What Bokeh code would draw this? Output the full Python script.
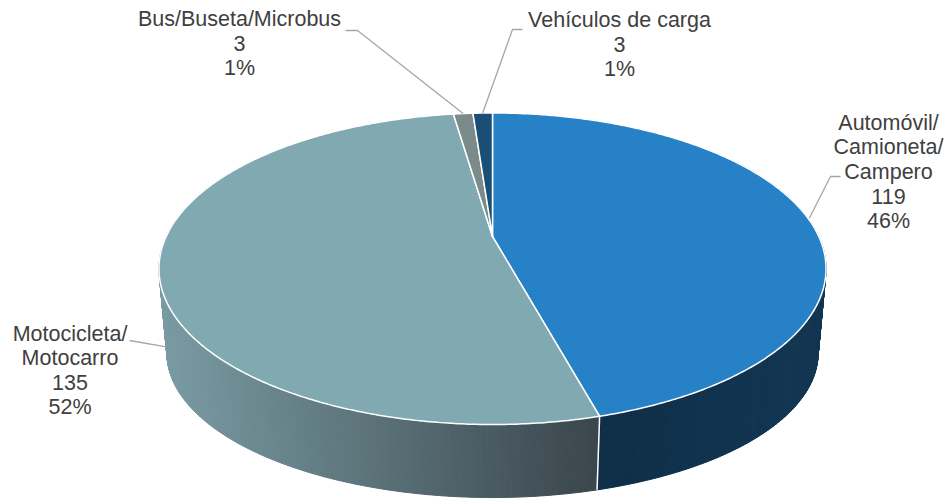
import numpy as np
from bokeh.plotting import figure
from bokeh.models import Range1d, ColumnDataSource
from bokeh.core.properties import value
from bokeh.embed import file_html
from bokeh.resources import INLINE

# ---------------- data ----------------
categories = ["Automóvil/Camioneta/Campero", "Motocicleta/Motocarro",
              "Bus/Buseta/Microbus", "Vehículos de carga"]
counts = [119, 135, 3, 3]
label_lines = [["Automóvil/", "Camioneta/", "Campero"],
               ["Motocicleta/", "Motocarro"],
               ["Bus/Buseta/Microbus"],
               ["Vehículos de carga"]]

# ---------------- style / layout ----------------
top_colors = ["#2681C7", "#80A9B2", "#7B8B8C", "#1A4E74"]
wall_left_rgb = [(15, 46, 71), (122, 155, 163), (110, 120, 121), (20, 60, 90)]
wall_right_rgb = [(18, 54, 82), (58, 70, 76), (90, 100, 101), (20, 60, 90)]
label_anchor = [(888, 122), (69.5, 333), (239, 18.5), (619, 19)]  # center x, first line y
line_gap = 24.5
text_color = "#404040"
leader_color = "#A6A6A6"

# perspective pie geometry (image pixel coordinates)
CX, CY = 492.0, 236.0
A, B, K = 326.3, 149.1, 0.207
AB, BB, CYB = 318.5, 138.0, 323.0


def top_pt(theta):
    t = np.radians(theta)
    u, v = np.sin(t), -np.cos(t)
    w = 1.0 / (1.0 - K * v)
    return CX + A * u * w, CY + B * v * w


def bot_pt(theta):
    t = np.radians(theta)
    u, v = np.sin(t), -np.cos(t)
    w = 1.0 / (1.0 - K * v)
    return CX + AB * u * w, CYB + BB * v * w


total = float(sum(counts))
fracs = [c / total for c in counts]
starts = np.concatenate([[0.0], np.cumsum(fracs)[:-1]]) * 360.0
ends = np.cumsum(fracs) * 360.0

p = figure(width=945, height=502, x_range=Range1d(0, 945), y_range=Range1d(502, 0),
           output_backend="svg", toolbar_location=None, min_border=0)
p.axis.visible = False
p.grid.visible = False
p.outline_line_color = None
p.background_fill_color = "white"
p.border_fill_color = "white"

# ---------------- side wall ----------------
quads = []
for i, (s, e) in enumerate(zip(starts, ends)):
    lo, hi = max(s, 55.0), min(e, 305.0)
    if hi <= lo:
        continue
    n = int(np.ceil((hi - lo) / 0.5))
    th = np.linspace(lo, hi, n + 1)
    for a, b in zip(th[:-1], th[1:]):
        x1, y1 = top_pt(a)
        x2, y2 = top_pt(b)
        x3, y3 = bot_pt(b)
        x4, y4 = bot_pt(a)
        xm = (x1 + x2) / 2
        if i == 0:
            f = np.clip((xm - 597) / (826 - 597), 0, 1)
        else:
            f = np.clip((xm - 160) / (597 - 160), 0, 1)
        cl, cr = wall_left_rgb[i], wall_right_rgb[i]
        rgb = tuple(int(round(cl[k] + (cr[k] - cl[k]) * f)) for k in range(3))
        col = "#%02x%02x%02x" % rgb
        vmid = -np.cos(np.radians((a + b) / 2))
        quads.append((vmid, [x1, x2, x3, x4], [y1, y2, y3, y4], col))
quads.sort(key=lambda q: q[0])
wsrc = ColumnDataSource(dict(xs=[q[1] for q in quads], ys=[q[2] for q in quads],
                             c=[q[3] for q in quads]))
p.patches("xs", "ys", source=wsrc, fill_color="c", line_color="c", line_width=1)

# white seam between the two visible wall segments
for s in starts:
    if 90 < s < 270:
        xa, ya = top_pt(s)
        xb, yb = bot_pt(s)
        p.line([xa, xb], [ya, yb], line_color="white", line_width=1.5)

# ---------------- top face ----------------
txs, tys = [], []
for s, e in zip(starts, ends):
    n = max(4, int(np.ceil((e - s) / 0.5)))
    th = np.linspace(s, e, n + 1)
    pts = [top_pt(t) for t in th]
    txs.append([CX] + [q[0] for q in pts])
    tys.append([CY] + [q[1] for q in pts])
tsrc = ColumnDataSource(dict(xs=txs, ys=tys, c=top_colors))
p.patches("xs", "ys", source=tsrc, fill_color="c", line_color="white",
          line_width=1.5, line_join="round")

# ---------------- leader lines ----------------
mids = (starts + ends) / 2
lead_x, lead_y = [], []
ex, ey = top_pt(mids[0])
lead_x.append([840, 830, ex + 2]); lead_y.append([176, 176, ey + 1])
tx_, ty_ = top_pt(mids[1]); bx_, by_ = bot_pt(mids[1])
ex, ey = tx_ + (bx_ - tx_) * 0.93, ty_ + (by_ - ty_) * 0.93
lead_x.append([129, ex]); lead_y.append([340, ey])
ex, ey = top_pt(mids[2])
lead_x.append([345, 357, ex]); lead_y.append([30, 30, ey])
ex, ey = top_pt(mids[3])
lead_x.append([522, 512, ex]); lead_y.append([29, 29, ey])
p.multi_line(lead_x, lead_y, line_color=leader_color, line_width=1.3)

# ---------------- labels ----------------
lx, ly, lt = [], [], []
for i, cat in enumerate(categories):
    lines = label_lines[i] + [str(counts[i]), "%d%%" % round(100 * counts[i] / total)]
    x0, y0 = label_anchor[i]
    for j, t in enumerate(lines):
        lx.append(x0); ly.append(y0 + j * line_gap); lt.append(t)
p.text(lx, ly, text=lt, text_align="center", text_baseline="middle",
       text_font=value("Liberation Sans"), text_font_size="21.5px", text_color=text_color)

open("out.html", "w").write(file_html(p, INLINE))
